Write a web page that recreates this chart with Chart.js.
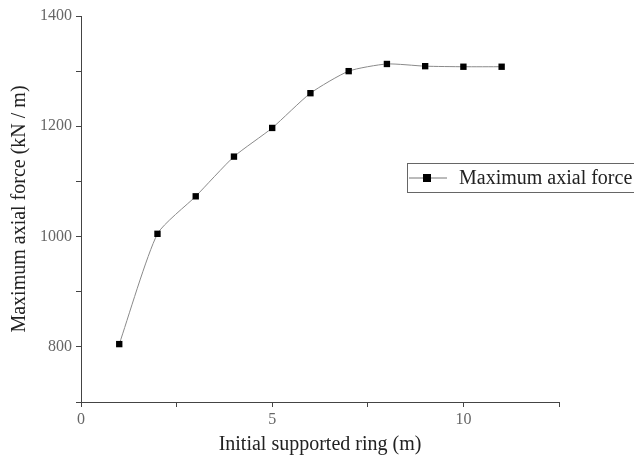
<!DOCTYPE html>
<html>
<head>
<meta charset="utf-8">
<script src="https://cdn.jsdelivr.net/npm/chart.js@4"></script>
<style>
  html, body { margin: 0; padding: 0; background: #fff; }
  #wrap { width: 634px; height: 461px; }
</style>
</head>
<body>
<div id="wrap"><canvas id="chart"></canvas></div>
<script>
const rings = [1, 2, 3, 4, 5, 6, 7, 8, 9, 10, 11];
const axialForce = [805, 1005, 1073, 1145, 1197, 1260, 1300, 1313, 1309, 1308, 1308];
const xTickLabels = [0, 5, 10];
const yTickLabels = [800, 1000, 1200, 1400];
const seriesName = 'Maximum axial force';

const serif = "'Liberation Serif', 'DejaVu Serif', serif";

// legend drawn by hand so it can sit inside the plot and run off the right edge
const boxLegend = {
  id: 'boxLegend',
  afterDraw(chart) {
    const ctx = chart.ctx;
    const ds = chart.data.datasets[0];
    const x0 = 407, y0 = 163, h = 29;
    ctx.save();
    ctx.strokeStyle = '#666';
    ctx.lineWidth = 1;
    ctx.strokeRect(x0 + 0.5, y0 + 0.5, 260, h);
    const cy = y0 + h / 2 + 0.5;
    ctx.strokeStyle = '#777';
    ctx.beginPath();
    ctx.moveTo(x0 + 2, cy);
    ctx.lineTo(x0 + 40, cy);
    ctx.stroke();
    ctx.fillStyle = '#000';
    ctx.fillRect(x0 + 16, cy - 4, 8, 8);
    ctx.font = '20px ' + serif;
    ctx.fillStyle = '#222';
    ctx.textBaseline = 'middle';
    ctx.fillText(ds.label, x0 + 52, cy + 1);
    ctx.restore();
  }
};

new Chart(document.getElementById('chart'), {
  type: 'line',
  data: {
    datasets: [
      {
        label: seriesName,
        data: rings.map((r, i) => ({ x: r, y: axialForce[i] })),
        borderColor: '#8a8a8a',
        borderWidth: 1,
        tension: 0.2,
        pointStyle: 'rect',
        pointRadius: 4.5,
        pointBackgroundColor: '#000',
        pointBorderColor: '#000',
        pointBorderWidth: 0,
      },
    ],
  },
  options: {
    responsive: true,
    maintainAspectRatio: false,
    animation: false,
    layout: { padding: { left: 0, right: 75, top: 16, bottom: 0 } },
    plugins: {
      legend: { display: false },
      tooltip: { enabled: false },
    },
    scales: {
      x: {
        type: 'linear',
        min: 0,
        max: 12.5,
        afterFit: (s) => { s.height = 59; },
        border: { color: '#444', width: 1 },
        grid: { drawOnChartArea: false, drawTicks: true, tickLength: 5, color: '#444' },
        ticks: {
          stepSize: 2.5,
          color: '#666',
          font: { family: serif, size: 16 },
          padding: 3,
          callback: (v) => (xTickLabels.includes(v) ? v : ''),
        },
        title: {
          display: true,
          text: 'Initial supported ring (m)',
          color: '#222',
          font: { family: serif, size: 20 },
          padding: { top: 2 },
        },
      },
      y: {
        min: 700,
        max: 1400,
        afterFit: (s) => { s.width = 81; },
        border: { color: '#444', width: 1 },
        grid: { drawOnChartArea: false, drawTicks: true, tickLength: 5, color: '#444' },
        ticks: {
          stepSize: 100,
          color: '#666',
          font: { family: serif, size: 16 },
          padding: 4,
          callback: (v) => (yTickLabels.includes(v) ? v : ''),
        },
        title: {
          display: true,
          text: 'Maximum axial force (kN / m)',
          color: '#222',
          font: { family: serif, size: 20 },
          padding: { top: 8, bottom: 2 },
        },
      },
    },
  },
  plugins: [boxLegend],
});
</script>
</body>
</html>
